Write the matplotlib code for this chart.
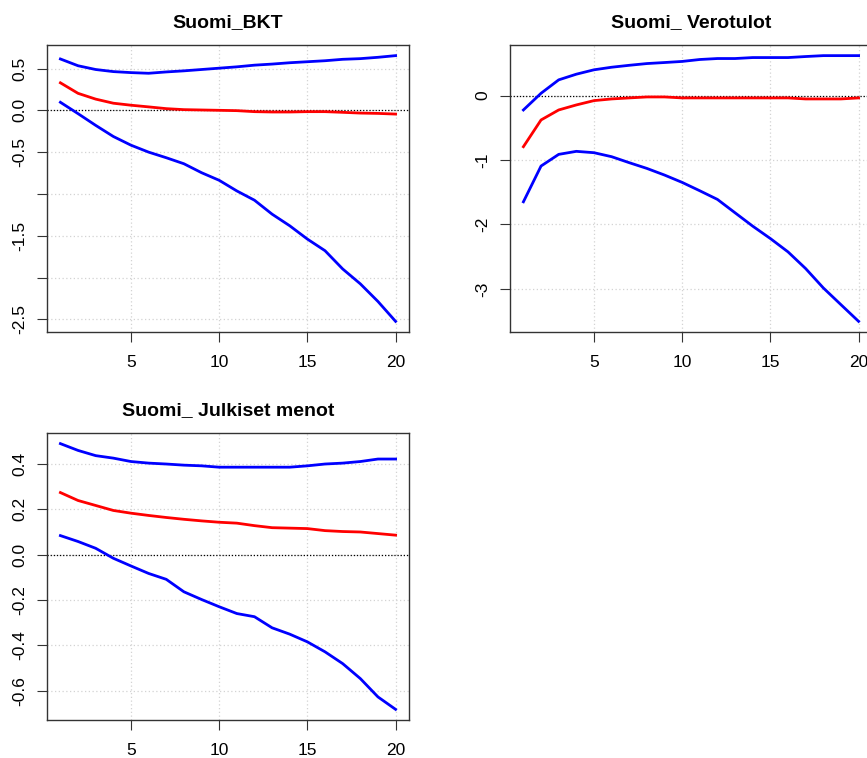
import numpy as np
import matplotlib
matplotlib.use('Agg')
import matplotlib.pyplot as plt

# ===================== 全局设置 =====================
plt.rcParams['font.family'] = ['Liberation Sans', 'DejaVu Sans']
plt.rcParams['axes.unicode_minus'] = False

# 期数
horizon = list(range(1, 21))

# Suomi_BKT
bkt_upper = [0.614, 0.533, 0.488, 0.463, 0.451, 0.443, 0.459, 0.472, 0.488, 0.504,
             0.520, 0.540, 0.553, 0.569, 0.581, 0.593, 0.610, 0.618, 0.634, 0.654]
bkt_mid = [0.329, 0.203, 0.134, 0.085, 0.061, 0.041, 0.020, 0.008, 0.004, 0.000,
           -0.004, -0.016, -0.020, -0.020, -0.016, -0.016, -0.024, -0.033, -0.037, -0.045]
bkt_lower = [0.096, -0.040, -0.180, -0.313, -0.417, -0.500, -0.567, -0.639, -0.746, -0.837,
             -0.964, -1.075, -1.242, -1.381, -1.540, -1.679, -1.897, -2.075, -2.286, -2.524]
bkt_yticks = [0.5, 0.0, -0.5, -1.0, -1.5, -2.0, -2.5]
bkt_ylabels = ['0.5', '0.0', '-0.5', '', '-1.5', '', '-2.5']

# Suomi_ Verotulot
vero_upper = [-0.223, 0.036, 0.244, 0.332, 0.400, 0.440, 0.470, 0.497, 0.513, 0.530,
              0.560, 0.575, 0.575, 0.590, 0.590, 0.590, 0.606, 0.620, 0.620, 0.620]
vero_mid = [-0.793, -0.378, -0.223, -0.145, -0.078, -0.052, -0.036, -0.021, -0.021, -0.036,
            -0.036, -0.036, -0.036, -0.036, -0.036, -0.036, -0.052, -0.052, -0.052, -0.036]
vero_lower = [-1.648, -1.093, -0.912, -0.865, -0.886, -0.948, -1.041, -1.130, -1.233, -1.347,
              -1.477, -1.611, -1.819, -2.026, -2.218, -2.425, -2.684, -2.984, -3.244, -3.503]
vero_yticks = [0, -1, -2, -3]
vero_ylabels = ['0', '-1', '-2', '-3']

# Suomi_ Julkiset menot
menot_upper = [0.490, 0.460, 0.437, 0.426, 0.411, 0.404, 0.400, 0.395, 0.392, 0.386,
               0.386, 0.386, 0.386, 0.386, 0.392, 0.400, 0.404, 0.411, 0.422, 0.422]
menot_mid = [0.274, 0.239, 0.217, 0.195, 0.183, 0.173, 0.164, 0.156, 0.149, 0.143,
             0.139, 0.128, 0.119, 0.117, 0.115, 0.106, 0.102, 0.100, 0.093, 0.086]
menot_lower = [0.084, 0.058, 0.028, -0.016, -0.050, -0.083, -0.109, -0.164, -0.198, -0.230,
               -0.260, -0.274, -0.323, -0.351, -0.385, -0.429, -0.481, -0.547, -0.628, -0.683]
menot_yticks = [0.4, 0.2, 0.0, -0.2, -0.4, -0.6]
menot_ylabels = ['0.4', '0.2', '0.0', '-0.2', '-0.4', '-0.6']

xticks = [5, 10, 15, 20]

# ===================== 绘图函数 =====================
def draw_panel(ax, title, upper, mid, lower, yticks, ylabels):
    ax.plot(horizon, upper, color='#0000FF', lw=2.0, zorder=3)
    ax.plot(horizon, mid, color='#FF0000', lw=2.0, zorder=3)
    ax.plot(horizon, lower, color='#0000FF', lw=2.0, zorder=3)
    ax.axhline(0, color='black', lw=0.9, linestyle=(0, (1, 1.5)), zorder=2)
    ax.margins(x=0.04, y=0.04)
    ax.set_xticks(xticks)
    ax.set_yticks(yticks)
    ax.set_yticklabels(ylabels, rotation=90, va='center')
    ax.grid(True, color='#d3d3d3', linestyle=(0, (1, 2)), lw=0.9, zorder=1)
    ax.tick_params(direction='out', length=7, width=0.8, labelsize=12.5,
                   color='#333333', labelcolor='black')
    ax.tick_params(axis='x', pad=9.5)
    ax.tick_params(axis='y', pad=7)
    for sp in ax.spines.values():
        sp.set_color('#333333')
        sp.set_linewidth(1.0)
    ax.set_title(title, fontsize=14, fontweight='bold', pad=13)


fig = plt.figure(figsize=(8.67, 7.58), dpi=100)
W, H = 867, 758
aw, ah = 362 / W, 287 / H

ax1 = fig.add_axes([47 / W, 1 - 332 / H, aw, ah])
ax2 = fig.add_axes([510 / W, 1 - 332 / H, aw, ah])
ax3 = fig.add_axes([47 / W, 1 - 720 / H, aw, ah])

draw_panel(ax1, 'Suomi_BKT', bkt_upper, bkt_mid, bkt_lower, bkt_yticks, bkt_ylabels)
draw_panel(ax2, 'Suomi_ Verotulot', vero_upper, vero_mid, vero_lower, vero_yticks, vero_ylabels)
draw_panel(ax3, 'Suomi_ Julkiset menot', menot_upper, menot_mid, menot_lower, menot_yticks, menot_ylabels)

fig.savefig('out.png', dpi=100)
